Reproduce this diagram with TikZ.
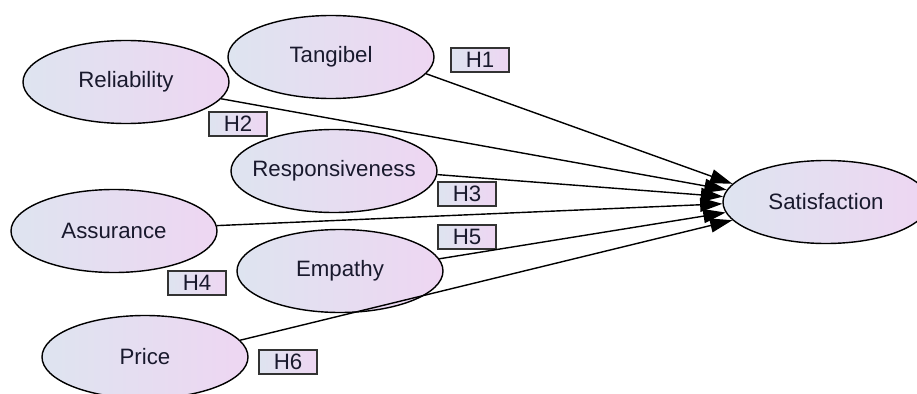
\documentclass[tikz,border=0pt]{standalone}
\usepackage{fontspec}
\setmainfont{Liberation Sans}
\usetikzlibrary{shapes.geometric}
\usetikzlibrary{arrows.meta}

\definecolor{fillleft}{RGB}{222,228,240}
\definecolor{fillright}{RGB}{238,214,242}
\definecolor{inktext}{RGB}{25,25,45}

\begin{document}
\begin{tikzpicture}[%
  x=0.03cm, y=-0.03cm,
  construct/.style={ellipse, draw, line width=1.2pt,
    left color=fillleft, right color=fillright,
    minimum width=6.18cm, minimum height=2.49cm, inner sep=0pt,
    text=inktext, font=\fontsize{19}{22}\selectfont},
  hypo/.style={rectangle, draw=black!80, line width=1.3pt,
    left color=fillleft, right color=fillright,
    minimum width=1.75cm, minimum height=0.72cm, inner sep=0pt,
    text=inktext, font=\fontsize{19}{22}\selectfont},
  effect/.style={line width=1.2pt, -{Triangle[length=19pt,width=12pt]}}]

  \useasboundingbox (0,0) rectangle (917,394);

  \node[construct] (tan) at (331,57) {Tangibel};
  \node[construct] (rel) at (126,82) {Reliability};
  \node[construct] (resp) at (334,171) {\makebox[0pt]{Responsiveness}};
  \node[construct] (assur) at (114,231) {Assurance};
  \node[construct] (emp) at (340,271) {Empathy};
  \node[construct] (price) at (145,357) {Price};
  \node[construct] (sat) at (826,202) {Satisfaction};

  \node[hypo] (h1) at (480,60) {H1};
  \node[hypo] (h2) at (238,124) {H2};
  \node[hypo] (h3) at (467,194) {H3};
  \node[hypo] (h4) at (197,283) {H4};
  \node[hypo] (h5) at (467,237) {H5};
  \node[hypo] (h6) at (288,362) {H6};

  \draw[effect] (tan.-10) -- (sat.169);
  \draw[effect] (rel.-10) -- (sat.173);
  \draw[effect] (resp.-2) -- (sat.177.5);
  \draw[effect] (assur.3) -- (sat.181.5);
  \draw[effect] (emp.7) -- (sat.186);
  \draw[effect] (price.10) -- (sat.191);
\end{tikzpicture}
\end{document}
